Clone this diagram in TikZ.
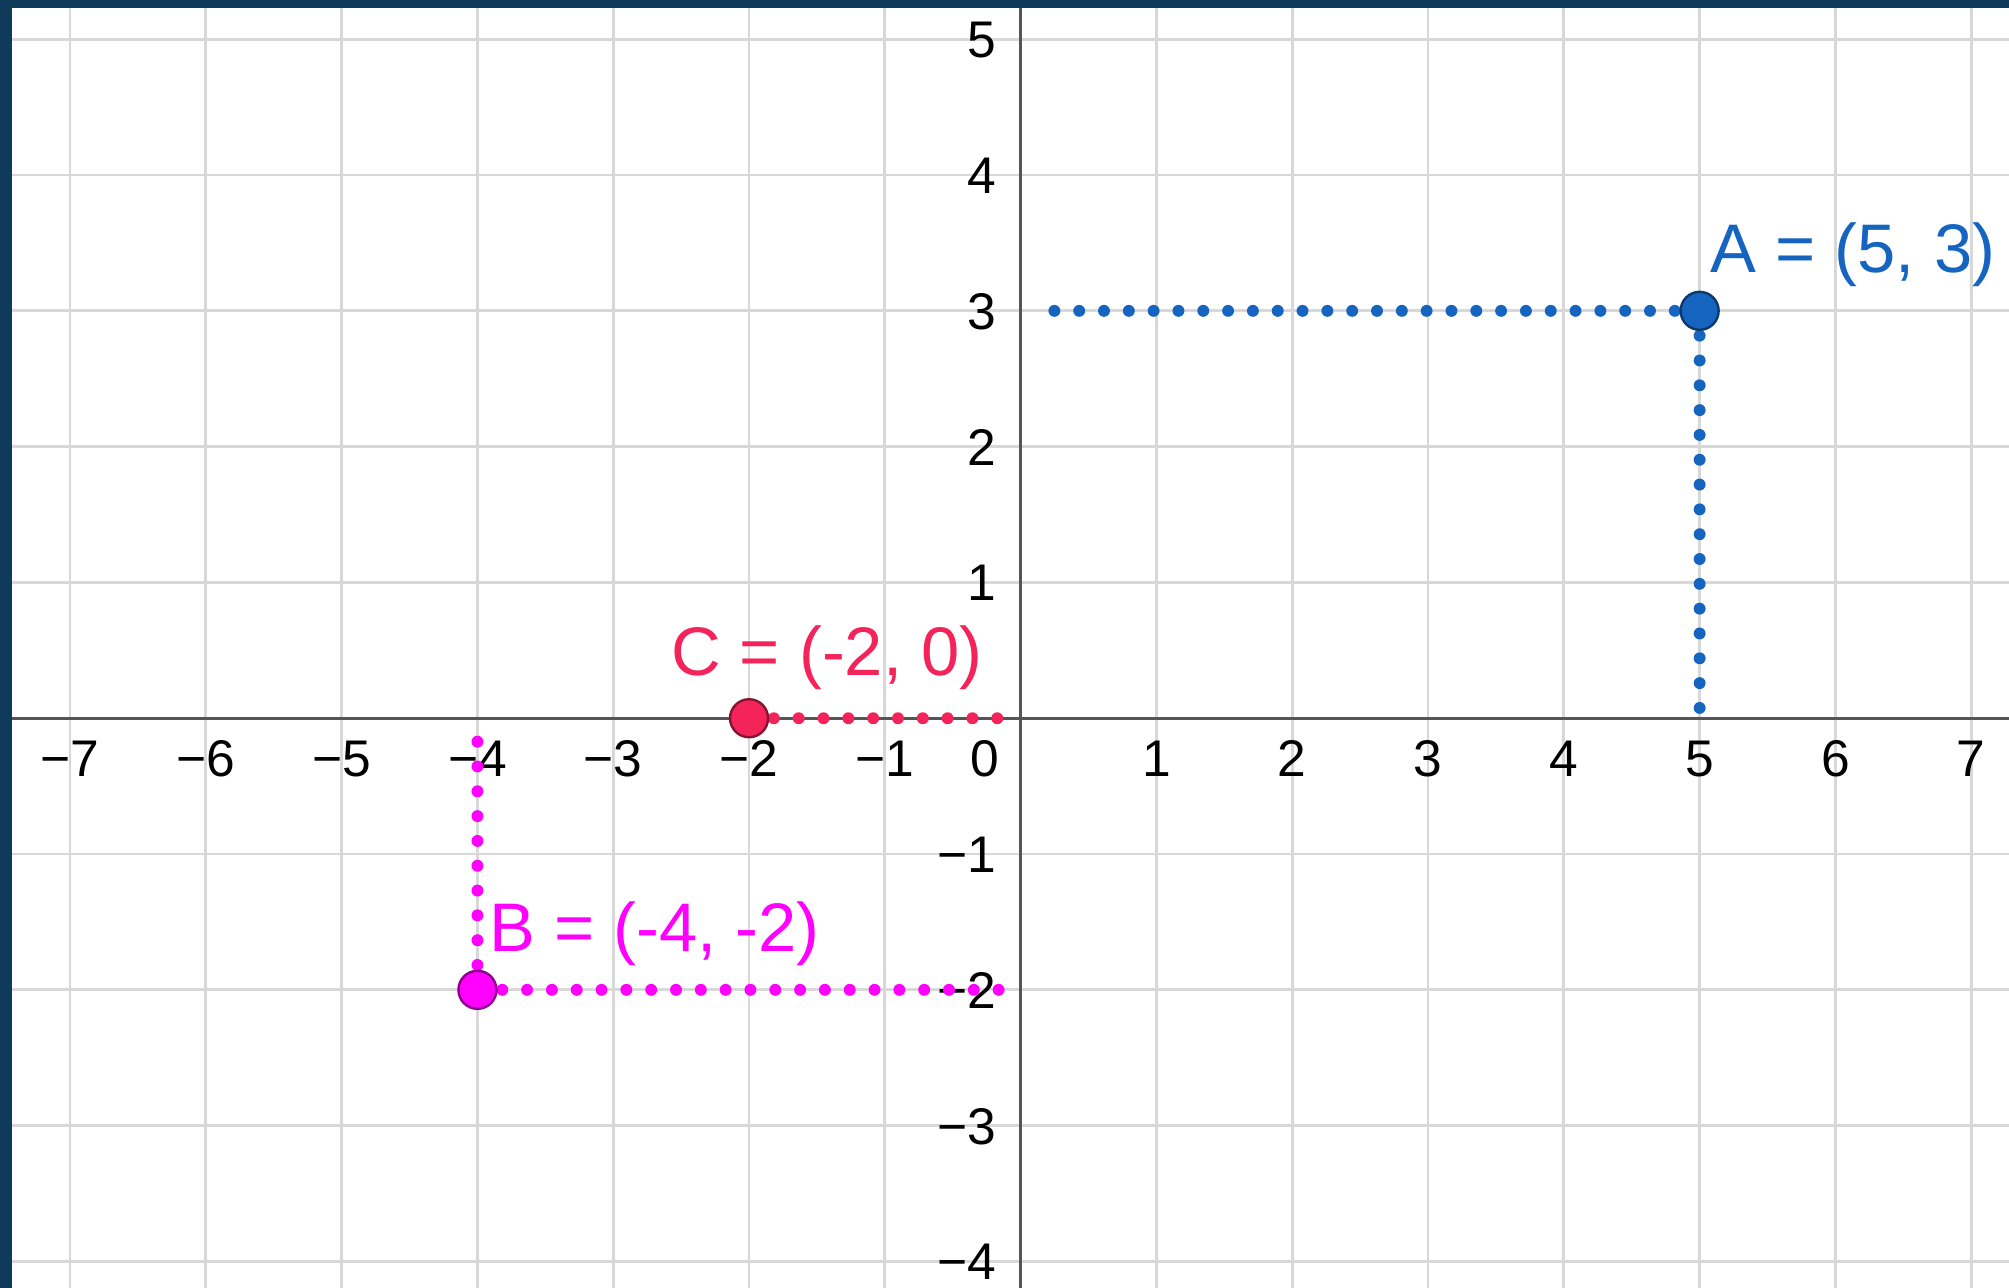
\documentclass[tikz,border=0pt]{standalone}
\usepackage{fontspec}
\setmainfont{Liberation Sans}
\definecolor{rand}{RGB}{14,59,90}
\definecolor{gitter}{RGB}{216,216,216}
\definecolor{achse}{RGB}{85,85,85}
\definecolor{blauA}{RGB}{21,101,192}
\definecolor{rotC}{RGB}{244,36,90}
\definecolor{magB}{RGB}{255,0,255}
\tikzset{
    punktlinie/.style={line width=2.5pt, line cap=round, dash pattern=on 0pt off 5.2pt},
    punkt/.style={circle, inner sep=0pt, minimum size=0.28cm, draw=#1!55!black, fill=#1, line width=0.5pt},
    ticklabel/.style={inner sep=0pt, font=\fontsize{10.8}{13}\selectfont},
    punktlabel/.style={inner sep=0pt, anchor=base west, font=\fontsize{14.4}{17}\selectfont}
}
\begin{document}
\begin{tikzpicture}
    \useasboundingbox (-7.516,-4.195) rectangle (7.278,5.289);
    \fill[white] (-7.516,-4.195) rectangle (7.278,5.289);

    % Gitter
    \foreach \x in {-7,...,7}
    {
        \draw[gitter, line width=0.6pt] (\x,-4.195) -- (\x,5.289);
    }
    \foreach \y in {-4,...,5}
    {
        \draw[gitter, line width=0.6pt] (-7.516,\y) -- (7.278,\y);
    }

    % Achsen
    \draw[achse, line width=0.7pt] (-7.516,0) -- (7.278,0);
    \draw[achse, line width=0.7pt] (0,-4.195) -- (0,5.289);

    % Beschriftung der Achsen
    \foreach \x in {-7,...,-1,1,2,...,7}
    {
        \node[ticklabel, anchor=base] (xl\x) at (\x,-0.43) {\ifnum\x<0 −\number-\x\else\x\fi};
    }
    \foreach \y in {-4,...,-1,1,2,...,5}
    {
        \node[ticklabel, anchor=base east] (yl\y) at (-0.175,\y-0.136) {\ifnum\y<0 −\number-\y\else\y\fi};
    }
    \node[ticklabel, anchor=base] (null) at (-0.263,-0.43) {0};

    % Punkte
    \coordinate (A) at (5,3);
    \coordinate (B) at (-4,-2);
    \coordinate (C) at (-2,0);
    \coordinate (Ay) at (0.1,3);
    \coordinate (Ax) at (5,0);
    \coordinate (By) at (0,-2);
    \coordinate (Bx) at (-4,-0.1);
    \coordinate (Cy) at (0,0);

    % Hilfslinien
    \draw[punktlinie, blauA] (A) -- (Ay);
    \draw[punktlinie, blauA] (A) -- (Ax);
    \draw[punktlinie, magB] (B) -- (By);
    \draw[punktlinie, magB] (B) -- (Bx);
    \draw[punktlinie, rotC] (C) -- (Cy);

    % Punkte markieren
    \foreach \p/\farbe in {A/blauA, B/magB, C/rotC}
    {
        \node[punkt=\farbe] (p\p) at (\p) {};
    }

    \node[punktlabel, text=blauA] (labA) at ([shift={(0.074,0.28)}]A) {A = (5, 3)};
    \node[punktlabel, text=magB] (labB) at ([shift={(0.081,0.28)}]B) {B = (-4, -2)};
    \node[punktlabel, text=rotC] (labC) at ([shift={(-0.58,0.317)}]C) {C = (-2, 0)};

    % Rand
    \fill[rand] (-7.516,5.23) rectangle (7.278,5.289);
    \fill[rand] (-7.516,-4.195) rectangle (-7.428,5.289);
\end{tikzpicture}
\end{document}
